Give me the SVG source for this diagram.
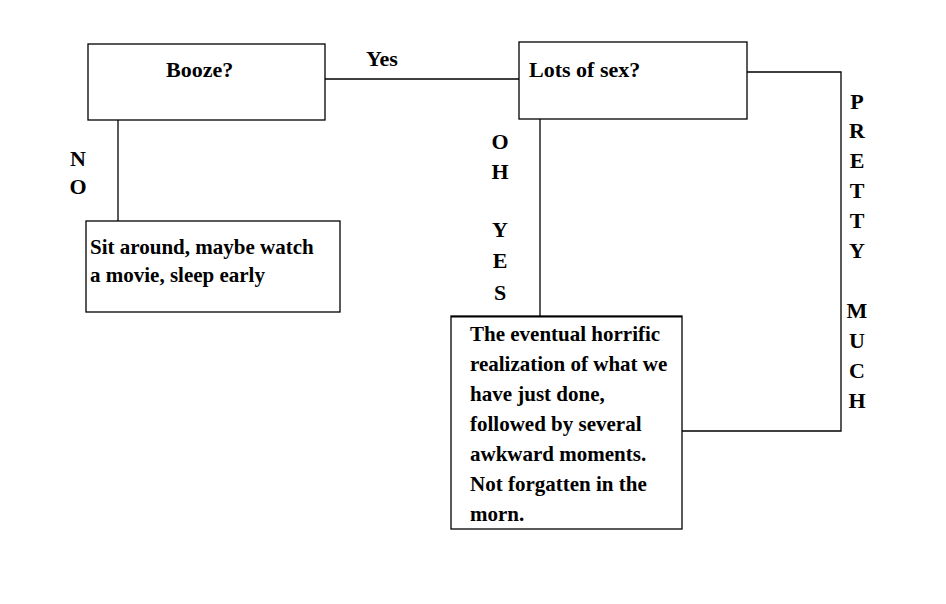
<svg xmlns="http://www.w3.org/2000/svg" width="946" height="604" viewBox="0 0 946 604">
<style>
.box{fill:#fff;stroke:#000;stroke-width:1.3}
.c{fill:none;stroke:#000;stroke-width:1.3}
text{font-family:"Liberation Serif","DejaVu Serif",serif;fill:#000;font-weight:bold}
.t{font-size:22px}
.s{font-size:21px}
.v{font-size:22px;text-anchor:middle}
</style>
<rect width="946" height="604" fill="#fff"/>
<g id="connectors">
<line class="c" x1="325" y1="79" x2="519" y2="79"/>
<line class="c" x1="118" y1="120" x2="118" y2="221"/>
<line class="c" x1="540" y1="119" x2="540" y2="316"/>
<polyline class="c" points="747,72 841,72 841,431 682,431"/>
<text class="t" x="366" y="66">Yes</text>
<text x="78" y="166" class="v">N</text>
<text x="78" y="194" class="v">O</text>
<text class="v" x="500" y="149">O</text>
<text class="v" x="500" y="179">H</text>
<text class="v" x="500" y="237">Y</text>
<text class="v" x="500" y="268">E</text>
<text class="v" x="500" y="300">S</text>
<text class="v" x="857" y="109">P</text>
<text class="v" x="857" y="138">R</text>
<text class="v" x="857" y="168">E</text>
<text class="v" x="857" y="198">T</text>
<text class="v" x="857" y="228">T</text>
<text class="v" x="857" y="258">Y</text>
<text class="v" x="857" y="318">M</text>
<text class="v" x="857" y="348">U</text>
<text class="v" x="857" y="378">C</text>
<text class="v" x="857" y="408">H</text>
</g>
<g id="booze">
<rect class="box" x="88" y="44" width="237" height="76"/>
<text class="t" x="166" y="77">Booze?</text>
</g>
<g id="sex">
<rect class="box" x="519" y="42" width="228" height="77"/>
<text class="t" x="529" y="77">Lots of sex?</text>
</g>
<g id="sit">
<rect class="box" x="86" y="221" width="254" height="91"/>
<text class="s" x="90" y="254">Sit around, maybe watch</text>
<text class="s" x="90" y="282">a movie, sleep early</text>
</g>
<g id="realization">
<rect class="box" x="451" y="316" width="231" height="213"/>
<rect x="451" y="316" width="231" height="1.5" fill="#000"/>
<text class="s" x="470" y="341">The eventual horrific</text>
<text class="s" x="470" y="371">realization of what we</text>
<text class="s" x="470" y="401">have just done,</text>
<text class="s" x="470" y="431">followed by several</text>
<text class="s" x="470" y="461">awkward moments.</text>
<text class="s" x="470" y="491">Not forgatten in the</text>
<text class="s" x="470" y="521">morn.</text>
</g>
</svg>
